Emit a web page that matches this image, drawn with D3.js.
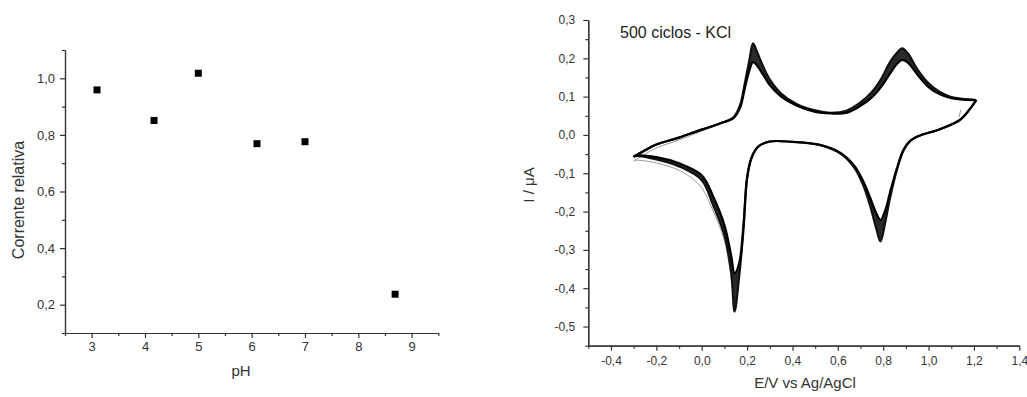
<!DOCTYPE html>
<html>
<head>
<meta charset="utf-8">
<script src="https://cdn.jsdelivr.net/npm/d3@7"></script>
<style>
  body { margin: 0; background: #fff; }
  svg { display: block; font-family: Arial, "Liberation Sans", sans-serif; }
  .axis path, .axis line { stroke: #333; stroke-width: 1.2; }
  .axis text { fill: #333; }
</style>
</head>
<body>
<svg id="chart" width="1027" height="397"></svg>
<script>
// left panel: relative current vs pH
const pH = [3.1, 4.17, 5.0, 6.1, 7.0, 8.69];
const correnteRelativa = [0.959, 0.851, 1.018, 0.769, 0.776, 0.237];
const pHTicks = [3, 4, 5, 6, 7, 8, 9];
const correnteTicks = [0.2, 0.4, 0.6, 0.8, 1.0];

// right panel: cyclic voltammogram, 500 cycles (outer / inner envelope of the band)
const eAnodic = [-0.30, -0.25, -0.20, -0.10, 0.00, 0.08, 0.14, 0.17, 0.19, 0.21, 0.226, 0.245, 0.27, 0.30, 0.35, 0.42, 0.50, 0.57, 0.64, 0.70, 0.75, 0.79, 0.83, 0.86, 0.884, 0.91, 0.95, 1.00, 1.05, 1.10, 1.15, 1.21];
const iAnodicOuter = [-0.057, -0.040, -0.025, -0.007, 0.014, 0.030, 0.046, 0.080, 0.135, 0.195, 0.239, 0.215, 0.180, 0.145, 0.108, 0.080, 0.064, 0.058, 0.064, 0.085, 0.112, 0.145, 0.190, 0.214, 0.226, 0.212, 0.172, 0.135, 0.112, 0.099, 0.094, 0.091];
const iAnodicInner = [-0.057, -0.040, -0.025, -0.007, 0.014, 0.030, 0.044, 0.072, 0.122, 0.168, 0.190, 0.180, 0.158, 0.130, 0.100, 0.076, 0.060, 0.056, 0.058, 0.076, 0.098, 0.125, 0.160, 0.185, 0.196, 0.188, 0.158, 0.125, 0.106, 0.096, 0.092, 0.091];

const eCathodic = [1.21, 1.19, 1.14, 1.05, 0.96, 0.92, 0.89, 0.86, 0.83, 0.81, 0.788, 0.77, 0.74, 0.71, 0.67, 0.61, 0.52, 0.40, 0.30, 0.25, 0.22, 0.20, 0.184, 0.165, 0.145, 0.13, 0.10, 0.05, 0.00, -0.10, -0.20, -0.29, -0.30];
const iCathodicOuter = [0.091, 0.074, 0.040, 0.015, -0.002, -0.015, -0.040, -0.092, -0.165, -0.225, -0.278, -0.245, -0.180, -0.128, -0.083, -0.048, -0.026, -0.018, -0.017, -0.030, -0.060, -0.115, -0.248, -0.370, -0.461, -0.360, -0.262, -0.183, -0.118, -0.082, -0.064, -0.055, -0.057];
const iCathodicInner = [0.091, 0.074, 0.040, 0.015, -0.002, -0.015, -0.038, -0.088, -0.150, -0.195, -0.222, -0.205, -0.160, -0.118, -0.078, -0.046, -0.026, -0.018, -0.017, -0.030, -0.058, -0.110, -0.235, -0.335, -0.361, -0.315, -0.235, -0.160, -0.105, -0.074, -0.058, -0.054, -0.057];

// first cycle (grey), only where it separates from the band
const eFirst = [0.145, 0.12, 0.10, 0.05, 0.00, -0.05, -0.10, -0.20, -0.29, -0.30, -0.25, -0.20, -0.10, 0.00, 0.08];
const iFirst = [-0.44, -0.335, -0.275, -0.198, -0.138, -0.110, -0.092, -0.073, -0.066, -0.068, -0.050, -0.034, -0.013, 0.010, 0.028];
const eStart = [1.135, 1.142];
const iStart = [0.047, 0.066];

const eTicks = [-0.4, -0.2, 0.0, 0.2, 0.4, 0.6, 0.8, 1.0, 1.2, 1.4];
const iTicks = [-0.5, -0.4, -0.3, -0.2, -0.1, 0.0, 0.1, 0.2, 0.3];

const svg = d3.select('#chart');
const comma = d => d3.format('.1f')(d).replace('.', ',').replace('\u2212', '-');

// ---------- left panel ----------
const xL = d3.scaleLinear().domain([2.5, 9.5]).range([65, 438.3]);
const yL = d3.scaleLinear().domain([0.1, 1.1]).range([333, 50]);

// minor ticks
svg.append('g').attr('class', 'axis')
  .attr('transform', 'translate(0,' + yL(0.1) + ')')
  .call(d3.axisBottom(xL).tickValues(d3.range(2.5, 9.6, 1)).tickSize(3).tickSizeOuter(0).tickFormat(''));
svg.append('g').attr('class', 'axis')
  .attr('transform', 'translate(' + xL(2.5) + ',0)')
  .call(d3.axisLeft(yL).tickValues([0.1, 0.3, 0.5, 0.7, 0.9, 1.1]).tickSize(3).tickSizeOuter(0).tickFormat(''));

// Add X axis
svg.append('g').attr('class', 'axis')
  .attr('transform', 'translate(0,' + yL(0.1) + ')')
  .call(d3.axisBottom(xL).tickValues(pHTicks).tickSize(5).tickSizeOuter(0).tickPadding(4).tickFormat(d3.format('d')))
  .call(g => g.selectAll('text').style('font-size', '13px'));

// Add Y axis
svg.append('g').attr('class', 'axis')
  .attr('transform', 'translate(' + xL(2.5) + ',0)')
  .call(d3.axisLeft(yL).tickValues(correnteTicks).tickSize(5).tickSizeOuter(0).tickPadding(5).tickFormat(comma))
  .call(g => g.selectAll('text').style('font-size', '13px'));

svg.append('g')
  .selectAll('path')
  .data(pH)
  .join('path')
  .attr('transform', (d, i) => 'translate(' + xL(d) + ',' + yL(correnteRelativa[i]) + ')')
  .attr('d', d3.symbol(d3.symbolSquare, 49))
  .attr('fill', '#000');

svg.append('text')
  .attr('x', 241).attr('y', 376)
  .attr('text-anchor', 'middle')
  .style('font-size', '15px').style('fill', '#333')
  .text('pH');

svg.append('text')
  .attr('transform', 'translate(24,200) rotate(-90)')
  .attr('text-anchor', 'middle')
  .style('font-size', '16px').style('fill', '#333')
  .text('Corrente relativa');

// ---------- right panel ----------
const xR = d3.scaleLinear().domain([-0.5, 1.4]).range([588.3, 1019.3]);
const yR = d3.scaleLinear().domain([-0.55, 0.3]).range([345.7, 20]);

svg.append('g').attr('class', 'axis')
  .attr('transform', 'translate(0,' + yR(-0.55) + ')')
  .call(d3.axisBottom(xR).tickValues(d3.range(-0.5, 1.41, 0.2)).tickSize(3).tickSizeOuter(0).tickFormat(''));
svg.append('g').attr('class', 'axis')
  .attr('transform', 'translate(' + xR(-0.5) + ',0)')
  .call(d3.axisLeft(yR).tickValues(d3.range(-0.55, 0.3, 0.1)).tickSize(3).tickSizeOuter(0).tickFormat(''));

// Add X axis
svg.append('g').attr('class', 'axis')
  .attr('transform', 'translate(0,' + yR(-0.55) + ')')
  .call(d3.axisBottom(xR).tickValues(eTicks).tickSize(5).tickSizeOuter(0).tickPadding(6).tickFormat(comma))
  .call(g => g.selectAll('text').style('font-size', '12px'));

// Add Y axis
svg.append('g').attr('class', 'axis')
  .attr('transform', 'translate(' + xR(-0.5) + ',0)')
  .call(d3.axisLeft(yR).tickValues(iTicks).tickSize(5).tickSizeOuter(0).tickPadding(8).tickFormat(comma))
  .call(g => g.selectAll('text').style('font-size', '12px'));

const curve = d3.curveCatmullRom.alpha(0.5);
const line = d3.line().x(d => xR(d[0])).y(d => yR(d[1])).curve(curve);
const zip = (e, i) => e.map((v, k) => [v, i[k]]);

// first cycle in grey
svg.append('path').datum(zip(eFirst, iFirst))
  .attr('fill', 'none').attr('stroke', '#999').attr('stroke-width', 1).attr('d', line);
svg.append('path').datum(zip(eStart, iStart))
  .attr('fill', 'none').attr('stroke', '#999').attr('stroke-width', 1).attr('d', line);

// band between the cycles
const band = d3.area().x(d => xR(d[0])).y0(d => yR(d[1])).y1(d => yR(d[2])).curve(curve);
[[eAnodic, iAnodicOuter, iAnodicInner], [eCathodic, iCathodicOuter, iCathodicInner]].forEach(s => {
  const rows = s[0].map((e, k) => [e, s[1][k], s[2][k]]);
  svg.append('path').datum(rows)
    .attr('fill', '#2a2a2a').attr('stroke', 'none').attr('d', band);
  svg.append('path').datum(zip(s[0], s[1]))
    .attr('fill', 'none').attr('stroke', '#111').attr('stroke-width', 2.2).attr('d', line);
  svg.append('path').datum(zip(s[0], s[2]))
    .attr('fill', 'none').attr('stroke', '#000').attr('stroke-width', 2.2).attr('d', line);
});

svg.append('text')
  .attr('x', 620).attr('y', 38)
  .style('font-size', '16px').style('fill', '#222')
  .text('500 ciclos - KCl');

svg.append('text')
  .attr('x', 805).attr('y', 388)
  .attr('text-anchor', 'middle')
  .style('font-size', '15px').style('fill', '#333')
  .text('E/V vs Ag/AgCl');

svg.append('text')
  .attr('transform', 'translate(534,185) rotate(-90)')
  .attr('text-anchor', 'middle')
  .style('font-size', '15px').style('fill', '#333')
  .text('I / \u03bcA');
</script>
</body>
</html>
